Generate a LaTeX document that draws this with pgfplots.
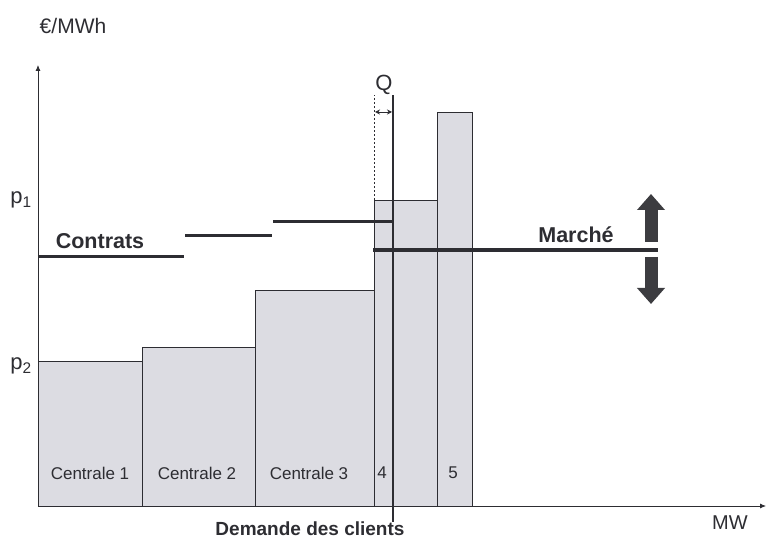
\documentclass[border=0pt]{standalone}
\usepackage{pgfplots}
\pgfplotsset{compat=1.18}
\usepackage{fontspec}
\setmainfont{Liberation Sans}
\usetikzlibrary{arrows.meta}
\definecolor{barfill}{RGB}{220,220,226}
\definecolor{ink}{RGB}{45,45,50}
\definecolor{arr}{RGB}{60,60,64}
\begin{document}
\begin{tikzpicture}
\begin{axis}[
  x=1pt, y=1pt,
  xmin=0, xmax=728, ymin=0, ymax=441,
  axis lines=left,
  axis line style={ink, line width=0.8pt, -{Latex[length=6pt,width=5pt]}},
  xtick=\empty, ytick=\empty,
  clip=false,
]
% bars
\addplot[draw=ink, line width=0.8pt, fill=barfill] coordinates {(0,0)(0,145)(104,145)(104,0)} -- cycle;
\addplot[draw=ink, line width=0.8pt, fill=barfill] coordinates {(104,0)(104,159)(217,159)(217,0)} -- cycle;
\addplot[draw=ink, line width=0.8pt, fill=barfill] coordinates {(217,0)(217,216)(336,216)(336,0)} -- cycle;
\addplot[draw=ink, line width=0.8pt, fill=barfill] coordinates {(336,0)(336,306)(399,306)(399,0)} -- cycle;
\addplot[draw=ink, line width=0.8pt, fill=barfill] coordinates {(399,0)(399,394)(434,394)(434,0)} -- cycle;
% contracts
\addplot[ink, line width=3pt] coordinates {(0,249)(146,249)};
\addplot[ink, line width=3pt] coordinates {(147,270)(234,270)};
\addplot[ink, line width=3pt] coordinates {(235,284)(355,284)};
% market
\addplot[ink, line width=3.5pt] coordinates {(335,256)(620,256)};
% demand
\addplot[ink, line width=2pt] coordinates {(355,-16)(355,411)};
% Q
\addplot[ink, line width=0.8pt, dashed, dash pattern=on 2pt off 2pt] coordinates {(336,306)(336,411)};
\addplot[ink, line width=0.8pt, {Stealth[length=5pt,width=5pt]}-{Stealth[length=5pt,width=5pt]}] coordinates {(337,394)(354,394)};
% block arrows
\addplot[arr, line width=13pt, -{Triangle[width=27pt,length=16pt]}] coordinates {(613,264)(613,312)};
\addplot[arr, line width=13pt, -{Triangle[width=27pt,length=16pt]}] coordinates {(613,249)(613,202)};
% labels
\node[font=\fontsize{17}{19}\selectfont, text=ink] at (axis cs:52,33) {Centrale 1};
\node[font=\fontsize{17}{19}\selectfont, text=ink] at (axis cs:159,33) {Centrale 2};
\node[font=\fontsize{17}{19}\selectfont, text=ink] at (axis cs:271,33) {Centrale 3};
\node[font=\fontsize{17}{19}\selectfont, text=ink] at (axis cs:344,33) {4};
\node[font=\fontsize{17}{19}\selectfont, text=ink] at (axis cs:415,33) {5};
\node[font=\bfseries\fontsize{21.5}{23}\selectfont, text=ink] at (axis cs:62,265) {Contrats};
\node[font=\bfseries\fontsize{21.5}{23}\selectfont, text=ink] at (axis cs:538,271) {Marché};
\node[font=\bfseries\fontsize{19}{21}\selectfont, text=ink, inner sep=0pt] at (axis cs:272,-23) {Demande des clients};
\node[font=\fontsize{22}{24}\selectfont, text=ink] at (axis cs:346,421) {Q};
\node[font=\fontsize{20}{22}\selectfont, text=ink] at (axis cs:692,-17) {MW};
\node[font=\fontsize{21}{23}\selectfont, text=ink] at (axis cs:35,480) {€/MWh};
\node[font=\fontsize{22}{24}\selectfont, text=ink] at (axis cs:-17,306) {p\textsubscript{1}};
\node[font=\fontsize{22}{24}\selectfont, text=ink] at (axis cs:-17,140) {p\textsubscript{2}};
\coordinate (BL) at (axis cs:-38,-35);
\coordinate (TR) at (axis cs:728,506);
\end{axis}
\pgfresetboundingbox
\path[use as bounding box] (BL) rectangle (TR);
\end{tikzpicture}
\end{document}
